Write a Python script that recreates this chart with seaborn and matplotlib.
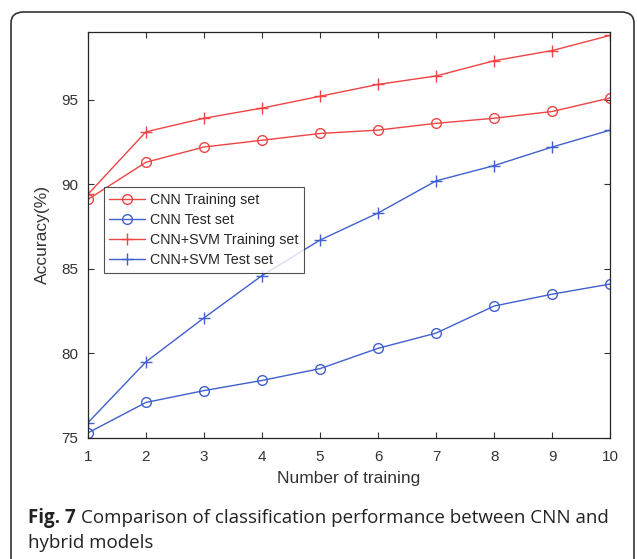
import matplotlib
matplotlib.use("Agg")
import matplotlib.pyplot as plt
import seaborn as sns
import pandas as pd
from matplotlib.patches import FancyBboxPatch

sns.set_theme(style="white")
plt.rcParams['font.family'] = ['Liberation Sans', 'DejaVu Sans']

epochs = [1, 2, 3, 4, 5, 6, 7, 8, 9, 10]
cnn_train = [89.1, 91.3, 92.2, 92.6, 93.0, 93.2, 93.6, 93.9, 94.3, 95.1]
cnn_test = [75.3, 77.1, 77.8, 78.4, 79.1, 80.3, 81.2, 82.8, 83.5, 84.1]
svm_train = [89.4, 93.1, 93.9, 94.5, 95.2, 95.9, 96.4, 97.3, 97.9, 98.8]
svm_test = [75.9, 79.5, 82.1, 84.6, 86.7, 88.3, 90.2, 91.1, 92.2, 93.2]
labels = ["CNN Training set", "CNN Test set", "CNN+SVM Training set", "CNN+SVM Test set"]
yticks = [75, 80, 85, 90, 95]

red = "#EE4444"
blue = "#4060CC"
series = [
    (cnn_train, labels[0], red, "o"),
    (cnn_test, labels[1], blue, "o"),
    (svm_train, labels[2], red, "+"),
    (svm_test, labels[3], blue, "+"),
]

fig = plt.figure(figsize=(6.37, 5.59), dpi=100)
ax = fig.add_axes([0.138, 0.2165, 0.820, 0.7263])

for vals, lab, col, mk in series:
    df = pd.DataFrame({"x": epochs, "y": vals})
    sns.lineplot(data=df, x="x", y="y", ax=ax, color=col, marker=mk,
                 markersize=7 if mk == "o" else 8, mfc="none", mec=col,
                 mew=1.0, linewidth=1.0, label=lab)

ax.set_xlim(1, 10)
ax.set_ylim(75, 99)
ax.set_xticks(epochs)
ax.set_yticks(yticks)
ax.tick_params(direction="in", length=4, width=0.8, colors="#333333",
               labelsize=11, top=True, right=True, bottom=True, left=True)
ax.tick_params(axis="x", pad=9)
ax.tick_params(axis="y", pad=7)
for s in ax.spines.values():
    s.set_color("#262626")
    s.set_linewidth(0.9)
ax.set_xlabel("Number of training", fontsize=12.5, color="#333333", labelpad=5)
ax.set_ylabel("Accuracy(%)", fontsize=12.5, color="#333333", labelpad=8)

leg = ax.legend(loc="upper left", bbox_to_anchor=(0.03, 0.617), fontsize=10.3,
                frameon=True, fancybox=False, edgecolor="#262626",
                handlelength=2.5, borderpad=0.4, labelspacing=0.42,
                handletextpad=0.35, borderaxespad=0)
leg.get_frame().set_linewidth(0.8)

frame = FancyBboxPatch((11 / 637, -0.05), 623 / 637, 1 - 12 / 559 + 0.05,
                       boxstyle="round,pad=0,rounding_size=0.02",
                       transform=fig.transFigure, fill=False,
                       edgecolor="#333333", linewidth=1.2, clip_on=False)
fig.patches.append(frame)

cap_font = ["Open Sans", "DejaVu Sans"]
fs = 13.0
y1 = 1 - 523 / 559
t1 = fig.text(28 / 637, y1, "Fig. 7", fontsize=fs, fontweight="bold",
              family=cap_font, color="#222222", va="baseline")
t2 = fig.text(0, y1, "Comparison of classification performance between CNN and",
              fontsize=fs, family=cap_font, color="#222222", va="baseline")
t3 = fig.text(28 / 637, 1 - 548 / 559, "hybrid models", fontsize=fs,
              family=cap_font, color="#222222", va="baseline")
fig.canvas.draw()
r = fig.canvas.get_renderer()
w1 = t1.get_window_extent(r).width
w2 = t2.get_window_extent(r).width
gap = 5
scale = (606 - 28 - gap) / (w1 + w2)
fs2 = fs * scale
for t in (t1, t2, t3):
    t.set_fontsize(fs2)
fig.canvas.draw()
w1 = t1.get_window_extent(r).width
t2.set_x((28 + w1 + gap) / 637)

fig.savefig("out.png", dpi=100)
